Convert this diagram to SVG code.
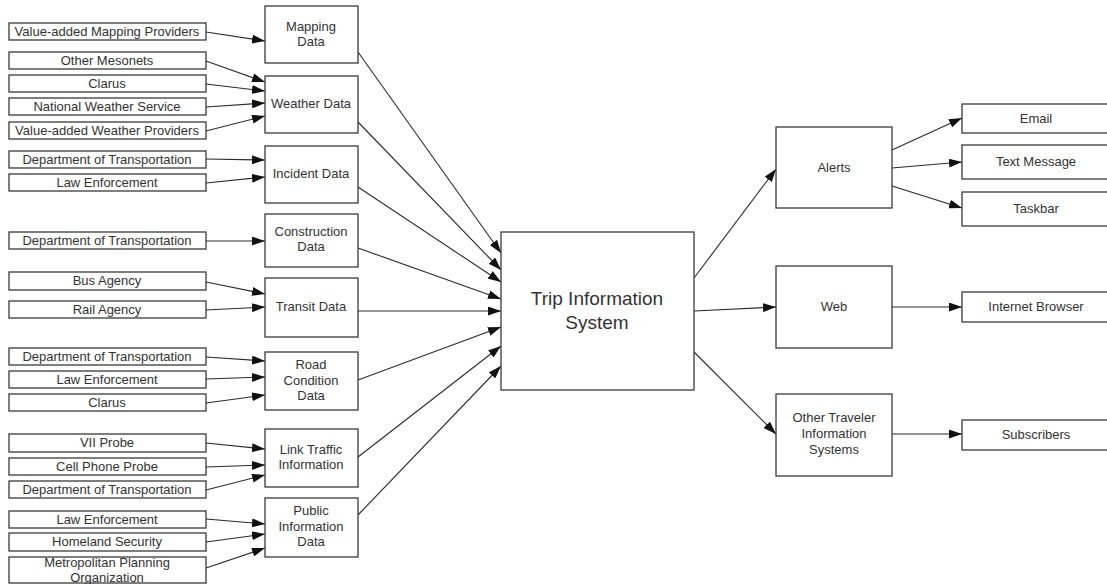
<svg xmlns="http://www.w3.org/2000/svg" width="1107" height="584" viewBox="0 0 1107 584">
<defs>
<marker id="ah" viewBox="0 0 13 9" markerWidth="13" markerHeight="9" refX="13" refY="4.5" orient="auto" markerUnits="userSpaceOnUse">
<path d="M0,0 L13,4.5 L0,9 z" fill="#111"/>
</marker>
<style>
rect{fill:#fff;stroke:#3a3a3a;stroke-width:1.3}
text{font-family:"Liberation Sans",Arial,sans-serif;font-size:13px;fill:#333;text-anchor:middle}
.big{font-size:19px}
#connectors line{stroke:#2a2a2a;stroke-width:1.1;marker-end:url(#ah)}
</style>
</defs>
<rect x="0" y="0" width="1107" height="584" style="fill:#fff;stroke:none"/>
<g id="connectors">
<line x1="206" y1="32" x2="265" y2="41"/>
<line x1="206" y1="61" x2="265" y2="82"/>
<line x1="206" y1="84" x2="265" y2="91"/>
<line x1="206" y1="107" x2="265" y2="103"/>
<line x1="206" y1="131" x2="265" y2="116"/>
<line x1="206" y1="159" x2="265" y2="160"/>
<line x1="206" y1="183" x2="265" y2="177"/>
<line x1="206" y1="241" x2="265" y2="241"/>
<line x1="206" y1="282" x2="265" y2="294"/>
<line x1="206" y1="310" x2="265" y2="307"/>
<line x1="206" y1="357" x2="265" y2="361"/>
<line x1="206" y1="379" x2="265" y2="377"/>
<line x1="206" y1="403" x2="265" y2="395"/>
<line x1="206" y1="443" x2="265" y2="449"/>
<line x1="206" y1="467" x2="265" y2="465"/>
<line x1="206" y1="490" x2="265" y2="475"/>
<line x1="206" y1="519" x2="265" y2="524"/>
<line x1="206" y1="542" x2="265" y2="534"/>
<line x1="206" y1="568" x2="265" y2="548"/>
<line x1="358" y1="52" x2="501" y2="253"/>
<line x1="358" y1="122" x2="501" y2="270"/>
<line x1="358" y1="187" x2="501" y2="282"/>
<line x1="358" y1="248" x2="501" y2="299"/>
<line x1="358" y1="311" x2="501" y2="311"/>
<line x1="358" y1="380" x2="501" y2="327"/>
<line x1="358" y1="457" x2="501" y2="346"/>
<line x1="358" y1="515" x2="501" y2="366"/>
<line x1="694" y1="278" x2="776" y2="169"/>
<line x1="694" y1="311" x2="776" y2="307"/>
<line x1="694" y1="352" x2="776" y2="434"/>
<line x1="892" y1="150" x2="962" y2="118"/>
<line x1="892" y1="168" x2="962" y2="162"/>
<line x1="892" y1="186" x2="962" y2="208"/>
<line x1="892" y1="307" x2="962" y2="307"/>
<line x1="892" y1="434" x2="962" y2="434"/>
</g>
<g id="src-vamp"><rect x="9" y="23" width="197" height="17"/><text x="107" y="36">Value-added Mapping Providers</text></g>
<g id="src-mesonets"><rect x="9" y="52" width="197" height="17"/><text x="107" y="65">Other Mesonets</text></g>
<g id="src-clarus1"><rect x="9" y="75" width="197" height="17"/><text x="107" y="88">Clarus</text></g>
<g id="src-nws"><rect x="9" y="98" width="197" height="17"/><text x="107" y="111">National Weather Service</text></g>
<g id="src-vawp"><rect x="9" y="122" width="197" height="17"/><text x="107" y="135">Value-added Weather Providers</text></g>
<g id="src-dot1"><rect x="9" y="151" width="197" height="17"/><text x="107" y="164">Department of Transportation</text></g>
<g id="src-law1"><rect x="9" y="174" width="197" height="17"/><text x="107" y="187">Law Enforcement</text></g>
<g id="src-dot2"><rect x="9" y="232" width="197" height="17"/><text x="107" y="245">Department of Transportation</text></g>
<g id="src-bus"><rect x="9" y="272" width="197" height="18"/><text x="107" y="285">Bus Agency</text></g>
<g id="src-rail"><rect x="9" y="301" width="197" height="17"/><text x="107" y="314">Rail Agency</text></g>
<g id="src-dot3"><rect x="9" y="348" width="197" height="17"/><text x="107" y="361">Department of Transportation</text></g>
<g id="src-law2"><rect x="9" y="371" width="197" height="17"/><text x="107" y="384">Law Enforcement</text></g>
<g id="src-clarus2"><rect x="9" y="394" width="197" height="17"/><text x="107" y="407">Clarus</text></g>
<g id="src-vii"><rect x="9" y="434" width="197" height="18"/><text x="107" y="447">VII Probe</text></g>
<g id="src-cell"><rect x="9" y="458" width="197" height="17"/><text x="107" y="471">Cell Phone Probe</text></g>
<g id="src-dot4"><rect x="9" y="481" width="197" height="17"/><text x="107" y="494">Department of Transportation</text></g>
<g id="src-law3"><rect x="9" y="511" width="197" height="17"/><text x="107" y="524">Law Enforcement</text></g>
<g id="src-homeland"><rect x="9" y="533" width="197" height="18"/><text x="107" y="546">Homeland Security</text></g>
<g id="src-mpo"><rect x="9" y="557" width="197" height="26"/><text x="107" y="567">Metropolitan Planning</text><text x="107" y="582">Organization</text></g>

<g id="mapping"><rect x="265" y="6" width="93" height="57"/><text x="311" y="31">Mapping</text><text x="311" y="46">Data</text></g>
<g id="weather"><rect x="265" y="76" width="93" height="57"/><text x="311" y="108">Weather Data</text></g>
<g id="incident"><rect x="265" y="146" width="93" height="57"/><text x="311" y="178">Incident Data</text></g>
<g id="construction"><rect x="265" y="214" width="93" height="53"/><text x="311" y="236">Construction</text><text x="311" y="251">Data</text></g>
<g id="transit"><rect x="265" y="278" width="93" height="59"/><text x="311" y="311">Transit Data</text></g>
<g id="road"><rect x="265" y="352" width="93" height="58"/><text x="311" y="369">Road</text><text x="311" y="385">Condition</text><text x="311" y="400">Data</text></g>
<g id="link"><rect x="265" y="429" width="93" height="58"/><text x="311" y="454">Link Traffic</text><text x="311" y="469">Information</text></g>
<g id="public"><rect x="265" y="498" width="93" height="59"/><text x="311" y="515">Public</text><text x="311" y="531">Information</text><text x="311" y="546">Data</text></g>

<g id="tis"><rect x="501" y="232" width="193" height="158"/><text class="big" x="597" y="305">Trip Information</text><text class="big" x="597" y="329">System</text></g>

<g id="alerts"><rect x="776" y="127" width="116" height="81"/><text x="834" y="172">Alerts</text></g>
<g id="web"><rect x="776" y="266" width="116" height="82"/><text x="834" y="311">Web</text></g>
<g id="other"><rect x="776" y="394" width="116" height="82"/><text x="834" y="422">Other Traveler</text><text x="834" y="438">Information</text><text x="834" y="454">Systems</text></g>

<g id="email"><rect x="962" y="104" width="148" height="29"/><text x="1036" y="123">Email</text></g>
<g id="textmsg"><rect x="962" y="145" width="148" height="34"/><text x="1036" y="166">Text Message</text></g>
<g id="taskbar"><rect x="962" y="192" width="148" height="34"/><text x="1036" y="213">Taskbar</text></g>
<g id="browser"><rect x="962" y="292" width="148" height="30"/><text x="1036" y="311">Internet Browser</text></g>
<g id="subscribers"><rect x="962" y="420" width="148" height="30"/><text x="1036" y="439">Subscribers</text></g>
</svg>
